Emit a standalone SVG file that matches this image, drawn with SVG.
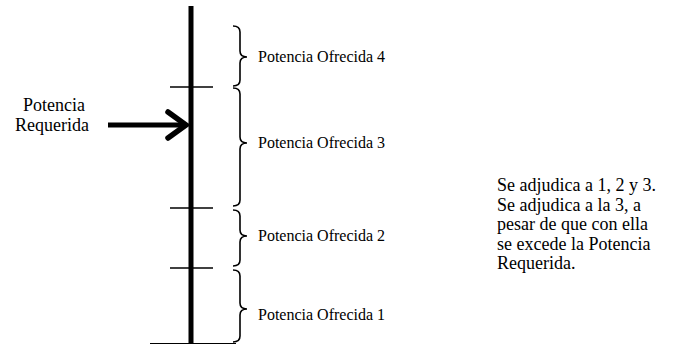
<svg xmlns="http://www.w3.org/2000/svg" width="689" height="352" viewBox="0 0 689 352">
<style>
text{font-family:"Liberation Serif","Times New Roman",serif;font-size:16px;fill:#000}
.big{font-size:18px}
.tick{stroke:#000;stroke-width:1.6;fill:none}
.brace{stroke:#000;stroke-width:1.6;fill:none}
</style>
<rect width="689" height="352" fill="#fff"/>
<g id="axis">
<line x1="191" y1="6" x2="191" y2="344" stroke="#000" stroke-width="5"/>
<line x1="150" y1="343.5" x2="236" y2="343.5" stroke="#000" stroke-width="1"/>
</g>
<g id="ticks">
<line class="tick" x1="170" y1="87" x2="213" y2="87"/>
<line class="tick" x1="170" y1="208" x2="213" y2="208"/>
<line class="tick" x1="170" y1="268" x2="213" y2="268"/>
</g>
<g id="required">
<text class="big" x="54" y="111" text-anchor="middle">Potencia</text>
<text class="big" x="52" y="131" text-anchor="middle">Requerida</text>
</g>
<g id="connectors">
<line x1="108" y1="125" x2="185" y2="125" stroke="#000" stroke-width="5"/>
<polyline points="168,112 186,125 168,138" fill="none" stroke="#000" stroke-width="5.5" stroke-linecap="round" stroke-linejoin="miter"/>
</g>
<g id="oferta4">
<path class="brace" d="M233,26 Q240,26 240,32 L240,51 Q240,57 247,57 Q240,57 240,63 L240,80 Q240,86 233,86"/>
<text x="258" y="62">Potencia Ofrecida 4</text>
</g>
<g id="oferta3">
<path class="brace" d="M233,88 Q240,88 240,94 L240,137 Q240,143 247,143 Q240,143 240,149 L240,200 Q240,206 233,206"/>
<text x="258" y="148">Potencia Ofrecida 3</text>
</g>
<g id="oferta2">
<path class="brace" d="M233,210 Q240,210 240,216 L240,230 Q240,236 247,236 Q240,236 240,242 L240,260 Q240,266 233,266"/>
<text x="258" y="241">Potencia Ofrecida 2</text>
</g>
<g id="oferta1">
<path class="brace" d="M233,270 Q240,270 240,276 L240,303 Q240,309 247,309 Q240,309 240,315 L240,336 Q240,342 233,342"/>
<text x="258" y="320">Potencia Ofrecida 1</text>
</g>
<g id="nota" class="big">
<text class="big" x="497" y="191">Se adjudica a 1, 2 y 3.</text>
<text class="big" x="497" y="211">Se adjudica a la 3, a</text>
<text class="big" x="497" y="230">pesar de que con ella</text>
<text class="big" x="497" y="250">se excede la Potencia</text>
<text class="big" x="497" y="269">Requerida.</text>
</g>
</svg>
